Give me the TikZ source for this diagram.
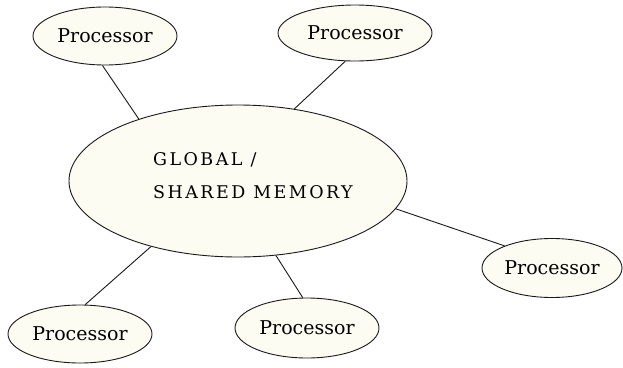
\documentclass[tikz,border=0pt]{standalone}
\usepackage{fontspec}
\setmainfont{DejaVu Serif}
\newfontfamily\memfont[LetterSpace=14]{DejaVu Serif}
\usepackage{tikz}
\usetikzlibrary{shapes.geometric}
\definecolor{ivory}{RGB}{252,252,242}

\begin{document}
\begin{tikzpicture}[x=1pt, y=-1pt]
	\tikzstyle{proc}=[ellipse, draw=black!90, fill=ivory, line width=0.9pt, inner sep=0pt, minimum width=144pt, minimum height=58pt, font=\fontsize{19}{22}\selectfont]
	\tikzstyle{mem}=[ellipse, draw=black!90, fill=ivory, line width=0.9pt, inner sep=0pt, minimum width=338pt, minimum height=152pt]
	\tikzstyle{memtext}=[align=left, inner sep=0pt, font=\memfont\fontsize{17.5}{33}\selectfont]
	\tikzstyle{connect}=[line width=0.9pt, draw=black!90]
	
	\useasboundingbox (0,0) rectangle (623,367);
	
	\node[mem] (mem) at (238,181) {};
	\node[memtext, anchor=west] (memlabel) at (153,176) {GLOBAL /\\SHARED MEMORY};
	
	\node[proc] (p1) at (105,36) {Processor};
	\node[proc, minimum width=154pt, minimum height=56pt] (p2) at (355,33) {Processor};
	\node[proc, minimum width=140pt, minimum height=59pt] (p3) at (552,268) {Processor};
	\node[proc] (p4) at (80,334) {Processor};
	\node[proc, minimum height=60pt] (p5) at (307,328) {Processor};
	
	\path (p1.265) edge [connect] (mem.148)
	(p2.251) edge [connect] (mem.52)
	(mem.350) edge [connect] (p3.155)
	(p4.80) edge [connect] (mem.217)
	(p5.98) edge [connect] (mem.297);
	
\end{tikzpicture}
\end{document}
